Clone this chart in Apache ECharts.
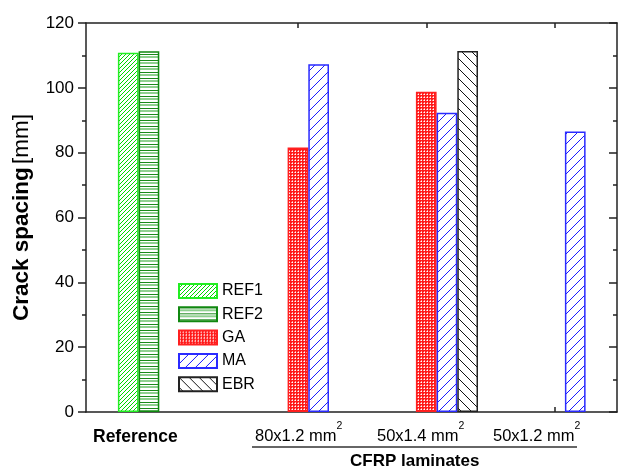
<!DOCTYPE html>
<html>
<head>
<meta charset="utf-8">
<script src="https://cdn.jsdelivr.net/npm/echarts@6/dist/echarts.min.js"></script>
<style>html,body{margin:0;padding:0;background:#fff;}#c{width:626px;height:470px;}</style>
</head>
<body>
<div id="c"></div>
<script>
// ---- data ----
var categories = ['Reference', '80x1.2 mm²', '50x1.4 mm²', '50x1.2 mm²'];
var seriesNames = ['REF1', 'REF2', 'GA', 'MA', 'EBR'];
var ref1 = [110.8, null, null, null];
var ref2 = [111.3, null, null, null];
var ga   = [null, 81.6, 98.8, null];
var ma   = [null, 107.3, 92.3, 86.5];
var ebr  = [null, null, 111.4, null];
var yTicks = [0, 20, 40, 60, 80, 100, 120];
var groupTitle = 'CFRP laminates';
var yTitleBold = 'Crack spacing';
var yTitleUnit = '[mm]';

var FONT = 'Liberation Sans, Arial, sans-serif';

// ---- patterns ----
function tile(w, h, draw) {
  var c = document.createElement('canvas');
  c.width = w; c.height = h;
  var g = c.getContext('2d');
  g.fillStyle = '#fff'; g.fillRect(0, 0, w, h);
  draw(g, w, h);
  return {image: c, repeat: 'repeat'};
}
function diag(size, color, lw, back) {
  return tile(size, size, function (g, s) {
    g.strokeStyle = color; g.lineWidth = lw;
    g.beginPath();
    if (!back) {
      g.moveTo(0, s); g.lineTo(s, 0);
      g.moveTo(-1, 1); g.lineTo(1, -1);
      g.moveTo(s - 1, s + 1); g.lineTo(s + 1, s - 1);
    } else {
      g.moveTo(0, 0); g.lineTo(s, s);
      g.moveTo(-1, s - 1); g.lineTo(1, s + 1);
      g.moveTo(s - 1, -1); g.lineTo(s + 1, 1);
    }
    g.stroke();
  });
}
var pREF1 = diag(4, '#00d800', 1, false);
var pREF2 = tile(4, 6, function (g, w) {
  g.fillStyle = '#1a8a1a'; g.fillRect(0, 0, w, 1);
  g.fillStyle = '#8fd08f'; g.fillRect(0, 2, w, 2);
});
var pGA = tile(3, 3, function (g) {
  g.fillStyle = '#ff1a1a'; g.fillRect(0, 0, 3, 3);
  g.fillStyle = '#fff';
  g.fillRect(1, 1, 1, 1);
  g.fillStyle = '#ff9a9a';
  g.fillRect(0, 1, 1, 1); g.fillRect(1, 0, 1, 1);
});
var pMA = diag(10, '#1a1aff', 1, false);
var pEBR = diag(10, '#111', 1, true);

var styles = [
  {color: pREF1, borderColor: '#22ee22', borderWidth: 1.5},
  {color: pREF2, borderColor: '#108810', borderWidth: 1.5},
  {color: pGA, borderColor: '#ff2020', borderWidth: 1.5},
  {color: pMA, borderColor: '#2a2aff', borderWidth: 1.5},
  {color: pEBR, borderColor: '#222', borderWidth: 1.5}
];
var values = [ref1, ref2, ga, ma, ebr];

var series = seriesNames.map(function (n, i) {
  return {
    name: n, type: 'bar', xAxisIndex: 2, yAxisIndex: 2,
    data: values[i], barWidth: 20.7, barGap: '0%',
    itemStyle: styles[i], emphasis: {disabled: true}, animation: false
  };
});

// ---- labels (graphic text) ----
var labelLeft = [93, 255, 377, 493];
var graphics = categories.map(function (c, i) {
  if (i === 0) {
    return {type: 'text', left: labelLeft[i], top: 428,
      style: {text: c, font: 'bold 17.5px ' + FONT, fill: '#000'}};
  }
  var main = c.replace('²', '');
  return {type: 'text', left: labelLeft[i], top: 421,
    style: {text: '{a|' + main + '}{s|2}', fill: '#000',
      rich: {a: {fontSize: 16.5, fontFamily: FONT, lineHeight: 24, verticalAlign: 'bottom'},
             s: {fontSize: 10.5, fontFamily: FONT, verticalAlign: 'top', lineHeight: 12}}}};
});
graphics.push({type: 'line', shape: {x1: 252, y1: 447, x2: 577, y2: 447},
  style: {stroke: '#333', lineWidth: 1.5}});
graphics.push({type: 'text', left: 350, top: 453,
  style: {text: groupTitle, font: 'bold 17px ' + FONT, fill: '#000'}});

var axisLineStyle = {color: '#222', width: 1.5};
var tickStyle = {color: '#222', width: 1.5};

var option = {
  backgroundColor: '#fff',
  animation: false,
  grid: [
    {left: 86, right: 9, top: 23, bottom: 58},
    {left: 105.5, right: 7.3, top: 23, bottom: 58}
  ],
  legend: {
    data: seriesNames, orient: 'vertical', left: 178, top: 283, padding: 0,
    itemWidth: 38, itemHeight: 14, itemGap: 7.3, icon: 'rect',
    textStyle: {fontSize: 16, fontFamily: FONT, color: '#000'},
    selectedMode: false
  },
  xAxis: [
    {gridIndex: 0, type: 'value', min: 0, max: 1, position: 'bottom',
     axisLine: {show: true, onZero: false, lineStyle: axisLineStyle}, axisTick: {show: false},
     axisLabel: {show: false}, splitLine: {show: false}},
    {gridIndex: 0, type: 'value', min: 0, max: 1, position: 'top',
     axisLine: {show: true, onZero: false, lineStyle: axisLineStyle}, axisTick: {show: false},
     axisLabel: {show: false}, splitLine: {show: false}},
    {gridIndex: 1, type: 'category', data: categories, position: 'bottom',
     axisLine: {show: false, onZero: false},
     axisTick: {show: true, alignWithLabel: true, inside: true, length: 5,
       interval: function (idx) { return idx > 0; }, lineStyle: tickStyle},
     axisLabel: {show: false}, splitLine: {show: false}},
    {gridIndex: 1, type: 'category', data: categories, position: 'top',
     axisLine: {show: false, onZero: false},
     axisTick: {show: true, alignWithLabel: true, inside: true, length: 5,
       interval: function (idx) { return idx > 0; }, lineStyle: tickStyle},
     axisLabel: {show: false}, splitLine: {show: false}}
  ],
  yAxis: [
    {gridIndex: 0, type: 'value', min: yTicks[0], max: yTicks[yTicks.length - 1], interval: 20,
     position: 'left',
     name: '{b|' + yTitleBold + '} {n|' + yTitleUnit + '}', nameLocation: 'middle', nameGap: 53,
     nameTextStyle: {rich: {
       b: {fontSize: 22.5, fontWeight: 'bold', fontFamily: FONT, color: '#000'},
       n: {fontSize: 22.5, fontFamily: FONT, color: '#000'}}},
     axisLine: {show: true, onZero: false, lineStyle: axisLineStyle},
     axisTick: {show: true, inside: false, length: 8, lineStyle: tickStyle},
     minorTick: {show: true, splitNumber: 2, length: 4, lineStyle: tickStyle},
     axisLabel: {fontSize: 17, fontFamily: FONT, color: '#000', margin: 12},
     splitLine: {show: false}},
    {gridIndex: 0, type: 'value', min: 0, max: 120, interval: 20, position: 'right',
     axisLine: {show: true, onZero: false, lineStyle: axisLineStyle},
     axisTick: {show: true, inside: true, length: 8, lineStyle: tickStyle},
     minorTick: {show: true, splitNumber: 2, length: 4, lineStyle: tickStyle},
     axisLabel: {show: false}, splitLine: {show: false}},
    {gridIndex: 1, type: 'value', min: 0, max: 120, show: false, splitLine: {show: false}}
  ],
  series: series,
  graphic: graphics
};

var chart = echarts.init(document.getElementById('c'), null, {renderer: 'canvas'});
chart.setOption(option);
</script>
</body>
</html>
